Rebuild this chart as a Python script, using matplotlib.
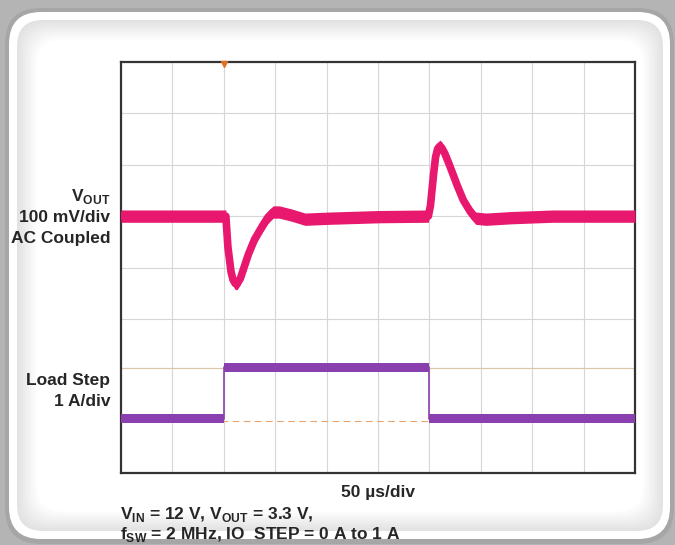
import matplotlib.pyplot as plt
from matplotlib.patches import FancyBboxPatch

# time in us (50 us/div), vout deviation in mV (100 mV/div, AC coupled)
vout_t = [0, 100, 102, 104, 107, 109, 111, 113, 116, 119, 124, 130, 137, 143, 148,
          154, 166, 179, 203, 252, 299, 301, 304, 306, 308, 310, 312, 315, 320,
          327, 333, 340, 345, 355, 380, 420, 500]
vout_mv = [0, 0, 0, -60, -108, -124, -131, -131, -122, -104, -74, -45, -21, -2, 8,
           8, 2, -6, -4, -1, 0, 20, 80, 115, 131, 136, 133, 122, 97,
           60, 31, 8, -4, -6, -3, 0, 0]

# load step current in A (1 A/div)
iload_t = [0, 100, 100, 300, 300, 500]
iload_a = [0, 0, 1, 1, 0, 0]

vout_offset_div = 5.0
iload_offset_div = 1.06

pink = '#e8186f'
purple = '#8a3fae'

plt.rcParams['font.family'] = ['Liberation Sans', 'DejaVu Sans']
plt.rcParams['mathtext.fontset'] = 'custom'
plt.rcParams['mathtext.rm'] = 'Liberation Sans:bold'

W, H = 675, 545
fig = plt.figure(figsize=(6.75, 5.45), dpi=100)
fig.patch.set_facecolor('#b4b4b4')


def rounded(x0, y0, x1, y1, r, color, z):
    # box given in pixels from the top-left corner
    p = FancyBboxPatch((x0 / W, 1 - y1 / H), (x1 - x0) / W, (y1 - y0) / H,
                       boxstyle='round,pad=0,rounding_size=%f' % (r / W),
                       transform=fig.transFigure, facecolor=color,
                       edgecolor='none', linewidth=0, zorder=z)
    p.set_mutation_aspect(W / H)
    fig.patches.append(p)


# soft shadow, white rim, then shaded inner panel
rounded(5, 8, 674, 544, 36, '#a6a6a6', -40)
rounded(9, 12, 670, 539, 32, '#ffffff', -39)
for k in range(14):
    g = int(226 + (255 - 226) * k / 13)
    d = 1.5 * k
    rounded(17 + d, 20 + d, 663 - d, 531 - d, 26, '#%02x%02x%02x' % (g, g, g), -38 + k)

ax = fig.add_axes([121 / W, 1 - 473 / H, 514 / W, 411 / H])
ax.set_facecolor('white')
ax.set_zorder(2)

vx = [t / 50 for t in vout_t]
vy = [vout_offset_div + v / 100 for v in vout_mv]
ix = [t / 50 for t in iload_t]
iy = [iload_offset_div + a for a in iload_a]

for k in range(1, 10):
    ax.axvline(k, color='#d6d6d6', lw=0.8, zorder=1)
for k in range(3, 8):
    ax.axhline(k, color='#d6d6d6', lw=0.8, zorder=1)
ax.axhline(iload_offset_div + 0.99, color='#d9c9a6', lw=0.9, zorder=1)
ax.axhline(iload_offset_div - 0.04, color='#e9a46e', lw=0.8, ls=(0, (6, 4)), zorder=1)

vh = 0.12
ax.fill_between(vx, [v - vh for v in vy], [v + vh for v in vy], color=pink, lw=0, zorder=3)
ax.plot(vx, vy, color=pink, lw=5.5, solid_joinstyle='round', zorder=3)
ih = 0.085
ax.fill_between(ix, [v - ih for v in iy], [v + ih for v in iy], color=purple, lw=0, zorder=3)
ax.plot(ix, iy, color=purple, lw=1.2, zorder=3)
ax.plot([2], [7.97], marker='v', color='#e07020', ms=4, clip_on=False, zorder=4)

ax.set_xlim(0, 10)
ax.set_ylim(0, 8)
ax.set_xticks([])
ax.set_yticks([])
for s in ax.spines.values():
    s.set_color('#333333')
    s.set_linewidth(1.6)

fs = 12.5
tc = '#262626'
fig.text(110 / W, 1 - 197 / H, r'V$_{\mathregular{OUT}}$', ha='right', va='center',
         fontsize=fs, fontweight='bold', color=tc)
fig.text(110 / W, 1 - 217 / H, '100 mV/div', ha='right', va='center',
         fontsize=fs, fontweight='bold', color=tc)
fig.text(110 / W, 1 - 238 / H, 'AC Coupled', ha='right', va='center',
         fontsize=fs, fontweight='bold', color=tc)
fig.text(110 / W, 1 - 381 / H, 'Load Step', ha='right', va='center',
         fontsize=fs, fontweight='bold', color=tc)
fig.text(110 / W, 1 - 402 / H, '1 A/div', ha='right', va='center',
         fontsize=fs, fontweight='bold', color=tc)
fig.text(378 / W, 1 - 492 / H, '50 µs/div', ha='center', va='center',
         fontsize=fs, fontweight='bold', color=tc)
fig.text(120 / W, 1 - 514 / H,
         r'V$_{\mathregular{IN}}$ = 12 V, V$_{\mathregular{OUT}}$ = 3.3 V,',
         ha='left', va='center', fontsize=fs, fontweight='bold', color=tc)
fig.text(120 / W, 1 - 535 / H,
         r'f$_{\mathregular{SW}}$ = 2 MHz, IO  STEP = 0 A to 1 A',
         ha='left', va='center', fontsize=fs, fontweight='bold', color=tc)

fig.savefig('out.png', dpi=100, facecolor=fig.get_facecolor())
